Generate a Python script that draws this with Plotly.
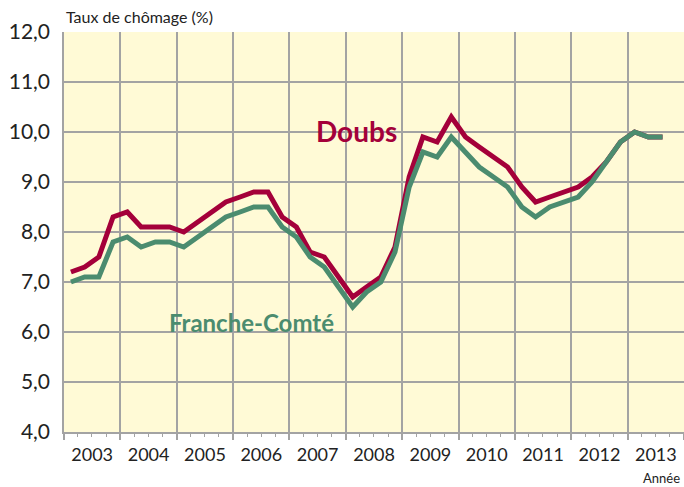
import plotly.graph_objects as go

# Périodes : trimestres de 2003-T1 à 2013-T3
annees = list(range(2003, 2014))
trimestres = [f"{a}-T{q}" for a in annees for q in (1, 2, 3, 4)][:43]

doubs = [7.2, 7.3, 7.5, 8.3, 8.4, 8.1, 8.1, 8.1, 8.0, 8.2,
         8.4, 8.6, 8.7, 8.8, 8.8, 8.3, 8.1, 7.6, 7.5, 7.1,
         6.7, 6.9, 7.1, 7.7, 9.1, 9.9, 9.8, 10.3, 9.9, 9.7,
         9.5, 9.3, 8.9, 8.6, 8.7, 8.8, 8.9, 9.1, 9.4, 9.8,
         10.0, 9.9, 9.9]

franche_comte = [7.0, 7.1, 7.1, 7.8, 7.9, 7.7, 7.8, 7.8, 7.7, 7.9,
                 8.1, 8.3, 8.4, 8.5, 8.5, 8.1, 7.9, 7.5, 7.3, 6.9,
                 6.5, 6.8, 7.0, 7.6, 8.9, 9.6, 9.5, 9.9, 9.6, 9.3,
                 9.1, 8.9, 8.5, 8.3, 8.5, 8.6, 8.7, 9.0, 9.4, 9.8,
                 10.0, 9.9, 9.9]

y_ticks = [4, 5, 6, 7, 8, 9, 10, 11, 12]

MID = {"1": "02-15", "2": "05-15", "3": "08-15", "4": "11-15"}
dates = [f"{t[:4]}-{MID[t[-1]]}" for t in trimestres]

RED = "#A4003A"
GREEN = "#4B8C6F"
BG = "#FFFAD6"
GRID = "#A3A3A3"
FONT = "Lato"

fig = go.Figure()
fig.add_trace(go.Scatter(x=dates, y=doubs, mode="lines", name="Doubs",
                         line=dict(color=RED, width=5), hoverinfo="skip"))
fig.add_trace(go.Scatter(x=dates, y=franche_comte, mode="lines", name="Franche-Comté",
                         line=dict(color=GREEN, width=5), hoverinfo="skip"))

# label background boxes (between grid and traces)
fig.add_shape(type="rect", xref="paper", yref="paper", x0=0.3756, x1=0.561, y0=0.6058, y1=0.706,
              fillcolor=BG, line=dict(width=0), layer="between")
fig.add_shape(type="rect", xref="paper", yref="paper", x0=0.1614, x1=0.485, y0=0.223, y1=0.348,
              fillcolor=BG, line=dict(width=0), layer="between")

fig.add_annotation(text="<b>Doubs</b>", xref="paper", yref="paper", x=0.4723, y=0.753,
                   xanchor="center", yanchor="middle",
                   showarrow=False, font=dict(family=FONT, size=28, color=RED))
fig.add_annotation(text="<b>Franche-Comté</b>", xref="paper", yref="paper", x=0.303, y=0.275,
                   xanchor="center", yanchor="middle",
                   showarrow=False, font=dict(family=FONT, size=24, color=GREEN))
fig.add_annotation(text="Taux de chômage (%)", xref="paper", yref="paper", x=0.0, y=1.0,
                   xanchor="left", yanchor="middle", yshift=16, showarrow=False,
                   font=dict(family=FONT, size=16, color="#222222"))
fig.add_annotation(text="Année", xref="paper", yref="paper", x=1.0, y=0.0,
                   xanchor="right", yanchor="middle", yshift=-46, xshift=-2, showarrow=False,
                   font=dict(family=FONT, size=13, color="#222222"))

fig.update_layout(
    width=684, height=487,
    margin=dict(l=64, r=0, t=32, b=55),
    paper_bgcolor="white", plot_bgcolor=BG,
    showlegend=False,
    separators=", ",
    font=dict(family=FONT, color="#222222"),
    xaxis=dict(
        type="date",
        range=[f"{annees[0]}-01-01", f"{annees[-1] + 1}-01-01"],
        tick0=f"{annees[0]}-01-01", dtick="M12",
        tickformat="%Y", ticklabelmode="period",
        ticks="outside", ticklen=6, tickcolor=GRID, tickwidth=1.5,
        showgrid=True, gridcolor=GRID, gridwidth=1.5,
        showline=True, linecolor=GRID, linewidth=1.5,
        tickfont=dict(family=FONT, size=18, color="#222222"),
        minor=dict(dtick="M3", tick0=f"{annees[0]}-01-01", ticks="outside", ticklen=3,
                   tickcolor=GRID, tickwidth=1.2, showgrid=False),
        fixedrange=True,
    ),
    yaxis=dict(
        range=[y_ticks[0], y_ticks[-1]],
        tickvals=y_ticks, tickformat=".1f",
        showgrid=True, gridcolor=GRID, gridwidth=1.5,
        showline=True, linecolor=GRID, linewidth=1.5,
        ticks="", ticklabelstandoff=8,
        tickfont=dict(family=FONT, size=21, color="#222222"),
        zeroline=False, fixedrange=True,
    ),
)

fig.write_html("out.html", config={"displayModeBar": False},
               post_script="document.body.style.margin='0';")
